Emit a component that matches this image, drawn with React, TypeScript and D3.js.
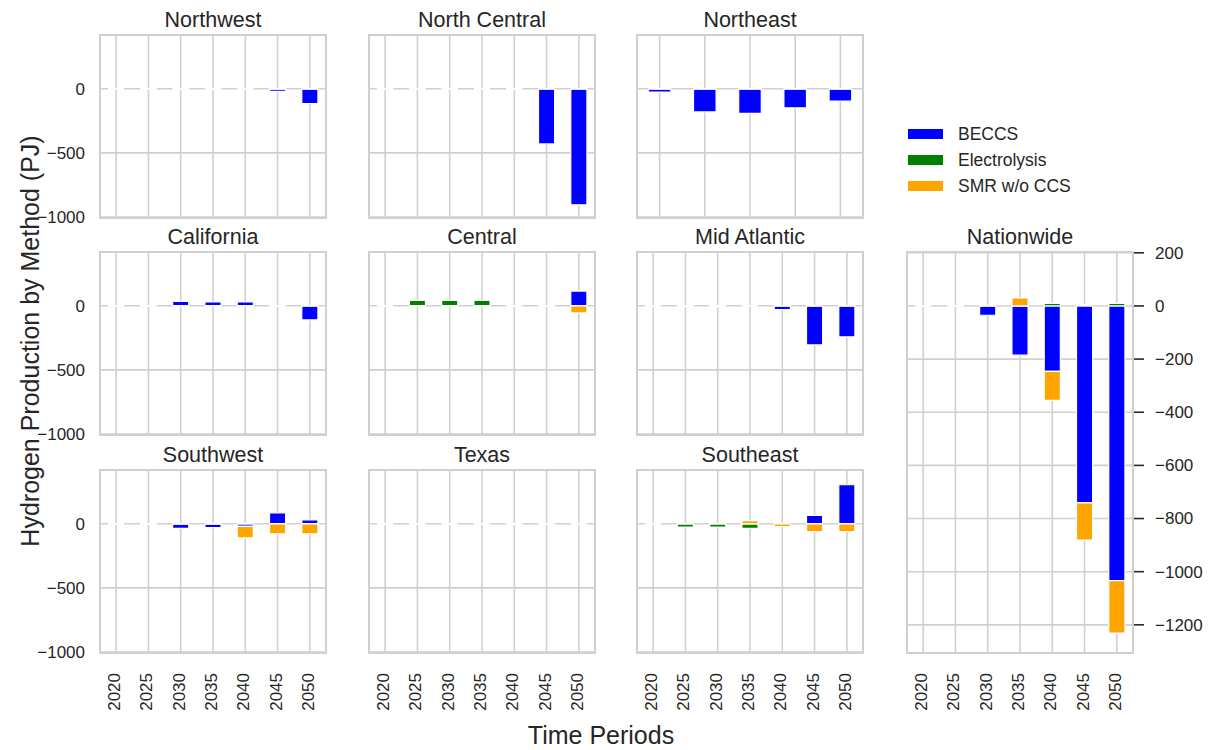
import React, { useRef, useEffect } from "react";
import * as d3 from "d3";

// periods on the x axis
const years = ["2020", "2025", "2030", "2035", "2040", "2045", "2050"];
const northeastYears = ["2030", "2035", "2040", "2045", "2050"];

const methods = ["BECCS", "Electrolysis", "SMR w/o CCS"];
const methodColors = ["#0000ff", "#008000", "#ffa500"];

// values per region: [BECCS, Electrolysis, SMR w/o CCS] (PJ)
const northwest = [
  [0, 0, 0, 0, 0, -20, -115],
  [0, 0, 0, 0, 0, 0, 0],
  [0, 0, 0, 0, 0, 0, 0],
];
const northCentral = [
  [0, 0, 0, 0, 0, -430, -905],
  [0, 0, 0, 0, 0, 0, 0],
  [0, 0, 0, 0, 0, 0, 0],
];
const northeast = [
  [-25, -180, -192, -148, -96],
  [0, 0, 0, 0, 0],
  [0, 0, 0, 0, 0],
];
const california = [
  [0, 0, 34, 30, 30, 0, -110],
  [0, 0, 0, 0, 0, 0, 0],
  [0, 0, 0, 0, 0, 0, 0],
];
const central = [
  [0, 0, 0, 0, 0, 0, 115],
  [0, 42, 42, 42, 0, 0, 0],
  [0, 0, 0, 0, 0, 0, -55],
];
const midAtlantic = [
  [0, 0, 0, 0, -30, -305, -242],
  [0, -8, -8, 0, 0, 0, 0],
  [0, 0, 0, 0, 0, 0, 0],
];
const southwest = [
  [0, 0, -35, -30, -20, 86, 31],
  [0, 0, 0, 0, 0, 0, 0],
  [0, 0, 0, 0, -90, -78, -78],
];
const texas = [
  [0, 0, 0, 0, 0, 0, 0],
  [0, 0, 0, 0, 0, 0, 0],
  [0, 0, 0, 0, 0, 0, 0],
];
const southeast = [
  [0, 0, 0, 0, 0, 65, 305],
  [0, -25, -25, -35, 0, 0, 0],
  [0, 0, 0, 25, -22, -60, -60],
];
const nationwide = [
  [0, 0, -35, -185, -246, -741, -1034],
  [0, 0, 0, 0, 10, 5, 10],
  [0, 0, 0, 30, -109, -140, -197],
];

const regionTicks = [0, -500, -1000];
const nationTicks = [200, 0, -200, -400, -600, -800, -1000, -1200];

// layout
const colX = [100, 369, 637, 907];
const rowY = [35, 252, 470];
const panelW = 226;
const panelH = 183;
const font = "'Liberation Sans', Arial, sans-serif";
const textColor = "#262626";
const gridColor = "#d0d0d0";

type Panel = {
  name: string;
  periods: string[];
  values: number[][];
  col: number;
  row: number;
  tall?: boolean;
  showX?: boolean;
};

const panels: Panel[] = [
  { name: "Northwest", periods: years, values: northwest, col: 0, row: 0 },
  { name: "North Central", periods: years, values: northCentral, col: 1, row: 0 },
  { name: "Northeast", periods: northeastYears, values: northeast, col: 2, row: 0 },
  { name: "California", periods: years, values: california, col: 0, row: 1 },
  { name: "Central", periods: years, values: central, col: 1, row: 1 },
  { name: "Mid Atlantic", periods: years, values: midAtlantic, col: 2, row: 1 },
  { name: "Southwest", periods: years, values: southwest, col: 0, row: 2, showX: true },
  { name: "Texas", periods: years, values: texas, col: 1, row: 2, showX: true },
  { name: "Southeast", periods: years, values: southeast, col: 2, row: 2, showX: true },
  { name: "Nationwide", periods: years, values: nationwide, col: 3, row: 1, tall: true, showX: true },
];

const App: React.FC = () => {
  const svgRef = useRef<SVGSVGElement | null>(null);

  useEffect(() => {
    const svg = d3.select(svgRef.current);
    svg.selectAll("*").remove();

    panels.forEach((p) => {
      const x0 = colX[p.col];
      const y0 = rowY[p.row];
      const h = p.tall ? rowY[2] + panelH - rowY[1] : panelH;
      const g = svg.append("g");

      const x = d3.scaleBand<string>()
        .domain(p.periods)
        .range([x0, x0 + panelW])
        .paddingInner(0.5)
        .paddingOuter(0.25);

      const y = d3.scaleLinear()
        .domain(p.tall ? [-1306, 203] : [-1008, 420])
        .range([y0 + h, y0]);

      const ticks = p.tall ? nationTicks : regionTicks;

      // grid
      g.selectAll("line.hgrid")
        .data(ticks)
        .join("line")
        .attr("x1", x0).attr("x2", x0 + panelW)
        .attr("y1", (d) => y(d)).attr("y2", (d) => y(d))
        .attr("stroke", gridColor)
        .attr("stroke-width", 1.6);

      g.selectAll("line.vgrid")
        .data(p.periods)
        .join("line")
        .attr("x1", (d) => x(d)! + x.bandwidth() / 2)
        .attr("x2", (d) => x(d)! + x.bandwidth() / 2)
        .attr("y1", y0).attr("y2", y0 + h)
        .attr("stroke", gridColor)
        .attr("stroke-width", 1.6);

      // stacked bars
      const rows = p.periods.map((period, i) => {
        const r: any = { period };
        methods.forEach((m, k) => (r[m] = p.values[k][i]));
        return r;
      });
      const series = d3.stack<any>()
        .keys(methods)
        .offset(d3.stackOffsetDiverging)(rows);

      series.forEach((s, k) => {
        g.selectAll(null)
          .data(s)
          .join("path")
          .attr("d", (d: any) => {
            const bx = x(d.data.period)!;
            const bw = x.bandwidth();
            const top = y(d[1]);
            const bot = y(d[0]);
            return `M${bx},${top}H${bx + bw}V${bot}H${bx}Z`;
          })
          .attr("fill", methodColors[k])
          .attr("stroke", "#ffffff")
          .attr("stroke-width", 1.2);
      });

      // frame
      g.append("rect")
        .attr("x", x0).attr("y", y0)
        .attr("width", panelW).attr("height", h)
        .attr("fill", "none")
        .attr("stroke", gridColor)
        .attr("stroke-width", 2);

      // title
      g.append("text")
        .attr("x", x0 + panelW / 2)
        .attr("y", y0 - 8)
        .attr("text-anchor", "middle")
        .attr("font-size", 21.5)
        .attr("fill", textColor)
        .text(p.name);

      // y tick labels
      if (p.col === 0) {
        g.selectAll("text.ytick")
          .data(ticks)
          .join("text")
          .attr("x", x0 - 15)
          .attr("y", (d) => y(d))
          .attr("dy", "0.35em")
          .attr("text-anchor", "end")
          .attr("font-size", 17)
          .attr("fill", textColor)
          .text((d) => d3.format("")(d).replace("-", "\u2212"));
      }
      if (p.tall) {
        const xr = x0 + panelW;
        g.selectAll("line.ytick")
          .data(ticks)
          .join("line")
          .attr("x1", xr + 1).attr("x2", xr + 11)
          .attr("y1", (d) => y(d)).attr("y2", (d) => y(d))
          .attr("stroke", textColor)
          .attr("stroke-width", 1.6);
        g.selectAll("text.ytick")
          .data(ticks)
          .join("text")
          .attr("x", xr + 22)
          .attr("y", (d) => y(d))
          .attr("dy", "0.35em")
          .attr("text-anchor", "start")
          .attr("font-size", 17)
          .attr("fill", textColor)
          .text((d) => d3.format("")(d).replace("-", "\u2212"));
      }

      // x tick labels
      if (p.showX) {
        g.selectAll("text.xtick")
          .data(p.periods)
          .join("text")
          .attr("transform", (d) => `translate(${x(d)! + x.bandwidth() / 2 - 2},${y0 + h + 20}) rotate(-90)`)
          .attr("dy", "0.35em")
          .attr("text-anchor", "end")
          .attr("font-size", 17)
          .attr("fill", textColor)
          .text((d) => d);
      }
    });

    // legend
    const legend = svg.append("g").attr("transform", "translate(908, 134)");
    methods.forEach((m, i) => {
      const row = legend.append("g").attr("transform", `translate(0, ${i * 26})`);
      row.append("rect")
        .attr("x", 0).attr("y", -5)
        .attr("width", 35).attr("height", 10)
        .attr("fill", methodColors[i]);
      row.append("text")
        .attr("x", 50)
        .attr("y", 0)
        .attr("dy", "0.35em")
        .attr("font-size", 17.5)
        .attr("fill", textColor)
        .text(m);
    });

    // axis labels
    svg.append("text")
      .attr("transform", "translate(30, 341) rotate(-90)")
      .attr("dy", "0.35em")
      .attr("text-anchor", "middle")
      .attr("font-size", 25)
      .attr("fill", textColor)
      .text("Hydrogen Production by Method (PJ)");

    svg.append("text")
      .attr("x", 601)
      .attr("y", 735)
      .attr("dy", "0.35em")
      .attr("text-anchor", "middle")
      .attr("font-size", 25)
      .attr("fill", textColor)
      .text("Time Periods");
  }, []);

  return (
    <div style={{ position: "absolute", left: 0, top: 0 }}>
      <svg ref={svgRef} width={1212} height={750} style={{ display: "block", fontFamily: font, background: "#fff" }} />
    </div>
  );
};

export default App;
